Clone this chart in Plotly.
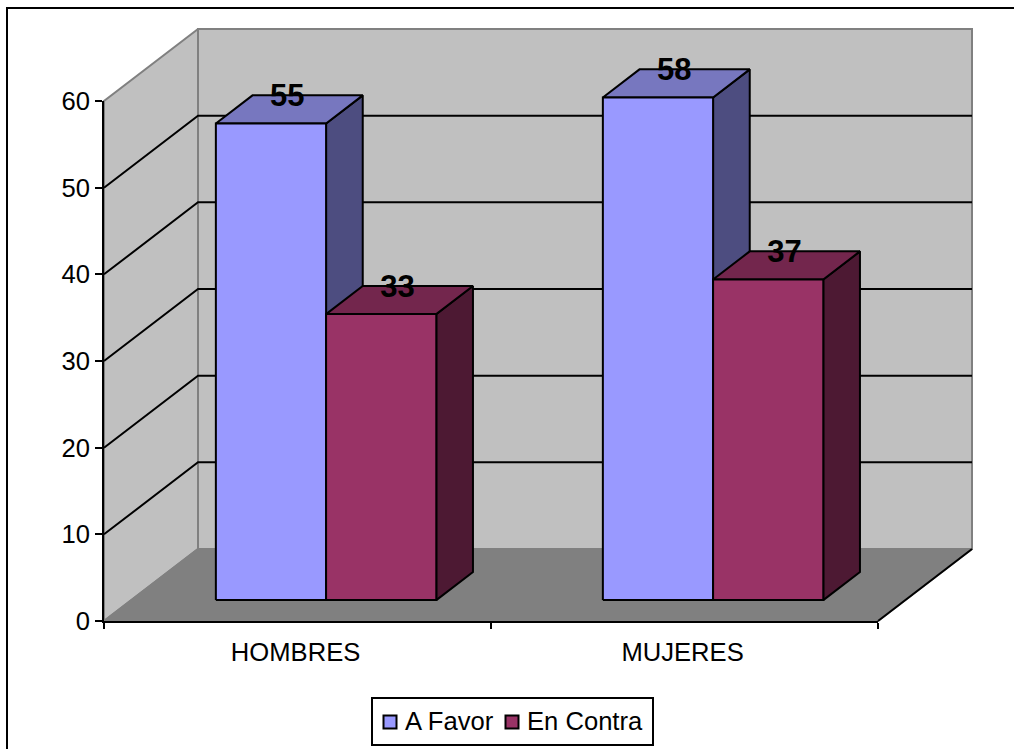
import plotly.graph_objects as go

# Chart data
categories = ["HOMBRES", "MUJERES"]
series_names = ["A Favor", "En Contra"]
a_favor = [55, 58]
en_contra = [33, 37]
y_ticks = [0, 10, 20, 30, 40, 50, 60]

# Palette
FRONT = ["#9999FF", "#993366"]
TOP = ["#7777BF", "#73264D"]
SIDE = ["#4D4D80", "#4D1933"]
WALL = "#C0C0C0"
FLOOR = "#808080"
FONT = "Liberation Sans"
TEXT_SIZE = 25.6

# Page and front-plane placement, in pixels
W, H = 1014, 749
LEFT, RIGHT, TOP_PX, BOTTOM = 104, 878, 101, 621
X_MAX, Y_MAX = 2, 60
px_x = (RIGHT - LEFT) / X_MAX
px_y = (BOTTOM - TOP_PX) / Y_MAX

# Oblique projection of the depth axis into data units
DEPTH_X = 94 / px_x
DEPTH_Y = 72 / px_y

# Bar layout inside each category and along the depth axis
BAR_START = 0.2186
BAR_WIDTH = 0.2848
BAR_NEAR = 0.29
BAR_FAR = 0.68

# Nudge of the value labels, in pixels
LABEL_SHIFT_X = -2
LABEL_SHIFT_Y = 3


def project(x, y, depth):
    return x + depth * DEPTH_X, y + depth * DEPTH_Y


def from_px(x_px, y_px):
    """Page pixel to the data units of the full-page scene axes."""
    return (x_px - LEFT) / px_x, (BOTTOM - y_px) / px_y


def polygon(points, fill, line_color, width=2):
    xs = [p[0] for p in points] + [points[0][0]]
    ys = [p[1] for p in points] + [points[0][1]]
    return go.Scatter(
        x=xs, y=ys, mode="lines", fill="toself", fillcolor=fill,
        line=dict(color=line_color, width=width),
        showlegend=False, hoverinfo="skip",
    )


def path(points, color, width=2):
    return go.Scatter(
        x=[p[0] for p in points], y=[p[1] for p in points], mode="lines",
        line=dict(color=color, width=width),
        showlegend=False, hoverinfo="skip",
    )


fig = go.Figure()

# Left wall, back wall and floor
fig.add_trace(polygon([project(0, 0, 0), project(0, Y_MAX, 0), project(0, Y_MAX, 1), project(0, 0, 1)], WALL, FLOOR))
fig.add_trace(polygon([project(0, 0, 1), project(0, Y_MAX, 1), project(X_MAX, Y_MAX, 1), project(X_MAX, 0, 1)], WALL, FLOOR))
fig.add_trace(polygon([project(0, 0, 0), project(X_MAX, 0, 0), project(X_MAX, 0, 1), project(0, 0, 1)], FLOOR, FLOOR))
fig.add_trace(path([project(X_MAX, 0, 0), project(X_MAX, 0, 1)], "#000000"))

# Gridlines run along the left wall and across the back wall
for v in y_ticks[1:-1]:
    fig.add_trace(path([project(0, v, 0), project(0, v, 1), project(X_MAX, v, 1)], "#000000"))

# Bars, drawn back to front: side, top, then front face
label_x, label_y, label_text = [], [], []
for c in range(len(categories)):
    for s, values in enumerate([a_favor, en_contra]):
        x0 = c + BAR_START + s * BAR_WIDTH
        x1 = x0 + BAR_WIDTH
        v = values[c]
        fig.add_trace(polygon([project(x1, 0, BAR_NEAR), project(x1, v, BAR_NEAR), project(x1, v, BAR_FAR), project(x1, 0, BAR_FAR)], SIDE[s], "#000000"))
        fig.add_trace(polygon([project(x0, v, BAR_NEAR), project(x1, v, BAR_NEAR), project(x1, v, BAR_FAR), project(x0, v, BAR_FAR)], TOP[s], "#000000"))
        fig.add_trace(polygon([project(x0, 0, BAR_NEAR), project(x1, 0, BAR_NEAR), project(x1, v, BAR_NEAR), project(x0, v, BAR_NEAR)], FRONT[s], "#000000"))
        label_x.append(project((x0 + x1) / 2, v, (BAR_NEAR + BAR_FAR) / 2)[0] + LABEL_SHIFT_X / px_x)
        label_y.append(project(x0, v, BAR_FAR)[1] - LABEL_SHIFT_Y / px_y)
        label_text.append(str(v))

# Value labels straddle the rear edge of each bar's top face
fig.add_trace(go.Scatter(
    x=label_x, y=label_y, text=label_text, mode="text", textposition="middle center",
    textfont=dict(family=FONT, size=31, color="#000000"),
    texttemplate="<b>%{text}</b>", showlegend=False, hoverinfo="skip",
))

# Legend key: swatch and name for each series
swatch_px = [390, 512]
name_px = [405, 527]
legend_row_px = 722
for s, name in enumerate(series_names):
    sx, sy = from_px(swatch_px[s], legend_row_px)
    tx, ty = from_px(name_px[s], legend_row_px + 2)
    fig.add_trace(go.Scatter(
        x=[sx], y=[sy], mode="markers", showlegend=False, hoverinfo="skip",
        marker=dict(symbol="square", size=13, color=FRONT[s], line=dict(color="#000000", width=2)),
    ))
    fig.add_trace(go.Scatter(
        x=[tx], y=[ty], text=[name], mode="text", textposition="middle right",
        textfont=dict(family=FONT, size=TEXT_SIZE, color="#000000"),
        showlegend=False, hoverinfo="skip",
    ))

# The front-plane axes carry the ticks and their labels
fig.add_trace(go.Scatter(x=[None], y=[None], xaxis="x2", yaxis="y2", mode="markers", showlegend=False, hoverinfo="skip"))

box_x0, box_y0 = from_px(372, 745)
box_x1, box_y1 = from_px(653, 698)

fig.update_layout(
    width=W, height=H, autosize=False,
    margin=dict(l=0, r=0, t=0, b=0, pad=0, autoexpand=False),
    paper_bgcolor="#FFFFFF", plot_bgcolor="rgba(0,0,0,0)",
    font=dict(family=FONT, size=TEXT_SIZE, color="#000000"),
    showlegend=False,
    # Scene axes span the whole page on the same scale as the front-plane axes
    xaxis=dict(domain=[0, 1], range=[from_px(0, 0)[0], from_px(W, 0)[0]], visible=False, fixedrange=True),
    yaxis=dict(domain=[0, 1], range=[from_px(0, H)[1], from_px(0, 0)[1]], visible=False, fixedrange=True),
    xaxis2=dict(
        domain=[LEFT / W, RIGHT / W], anchor="y2",
        range=[0, X_MAX], tickmode="array", tickvals=[0.495, 1.495], ticktext=categories,
        ticks="", showgrid=False, zeroline=False, showline=True, linecolor="#000000", linewidth=2,
        tickfont=dict(size=TEXT_SIZE), fixedrange=True, ticklabelstandoff=7,
        minor=dict(tickmode="array", tickvals=[0, 1, 2], ticks="outside", ticklen=6, tickwidth=2, tickcolor="#000000", showgrid=False),
    ),
    yaxis2=dict(
        domain=[1 - BOTTOM / H, 1 - TOP_PX / H], anchor="x2",
        range=[0, Y_MAX], tickmode="array", tickvals=y_ticks, ticks="outside", ticklen=7,
        tickwidth=2, tickcolor="#000000", showgrid=False, zeroline=False, showline=True,
        linecolor="#000000", linewidth=2, tickfont=dict(size=TEXT_SIZE), fixedrange=True,
    ),
    shapes=[
        # Chart-area frame, running off the right and bottom of the page
        dict(type="rect", xref="paper", yref="paper", layer="below",
             x0=7 / W, x1=1.1, y0=-0.1, y1=1 - 8 / H,
             line=dict(color="#000000", width=2), fillcolor="rgba(0,0,0,0)"),
        # Legend box
        dict(type="rect", xref="x", yref="y", layer="below",
             x0=box_x0, x1=box_x1, y0=box_y0, y1=box_y1,
             line=dict(color="#000000", width=2), fillcolor="#FFFFFF"),
    ],
)

fig.write_html("out.html", config={"displayModeBar": False})
